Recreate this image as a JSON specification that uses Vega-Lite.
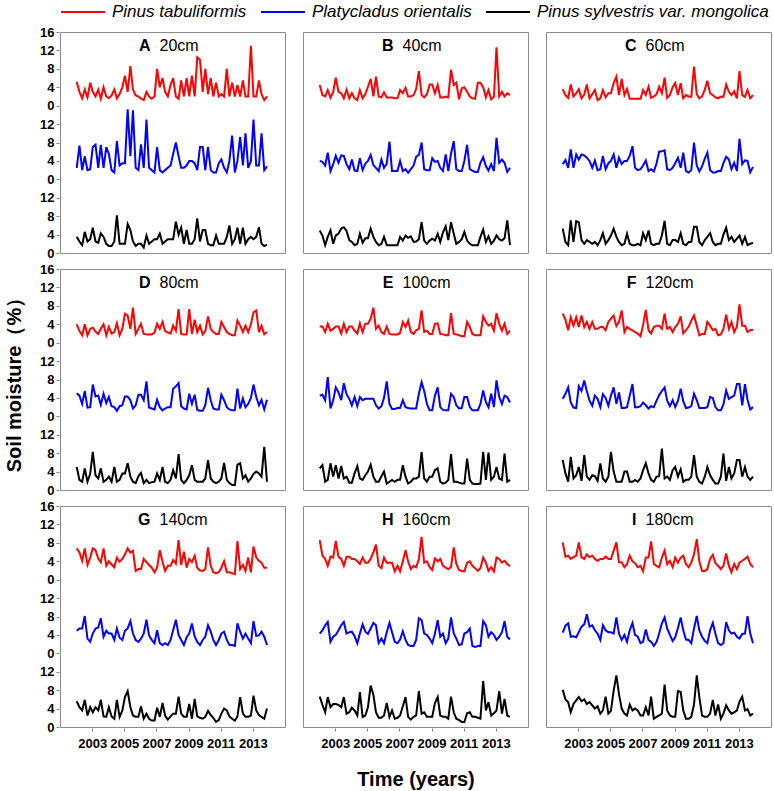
{
  "$schema": "https://vega.github.io/schema/vega-lite/v6.json",
  "background": "white",
  "padding": {"left": 4, "top": 0, "right": 4, "bottom": 0},
  "data": {"values": [
    {"t":2002.04,"A1":5.2,"A2":2.5,"A3":3.5,"B1":4.5,"B2":4.0,"B3":4.9,"C1":3.6,"C2":3.3,"C3":5.3,"D1":4.0,"D2":5.0,"D3":5.0,"E1":3.5,"E2":4.5,"E3":4.7,"F1":6.3,"F2":3.8,"F3":6.5,"G1":6.8,"G2":4.9,"G3":5.6,"H1":8.6,"H2":4.3,"H3":6.6,"I1":8.1,"I2":4.5,"I3":8.1},
    {"t":2002.21,"A1":3.0,"A2":7.3,"A3":2.5,"B1":2.3,"B2":3.8,"B3":3.8,"C1":2.3,"C2":4.2,"C3":2.4,"D1":2.5,"D2":4.5,"D3":2.2,"E1":3.5,"E2":4.7,"E3":5.4,"F1":5.0,"F2":4.9,"F3":3.6,"G1":5.9,"G2":5.4,"G3":4.3,"H1":5.2,"H2":5.0,"H3":4.8,"I1":5.0,"I2":6.0,"I3":6.0},
    {"t":2002.38,"A1":1.6,"A2":2.0,"A3":1.7,"B1":2.0,"B2":3.0,"B3":1.7,"C1":1.7,"C2":2.5,"C3":1.7,"D1":1.6,"D2":2.7,"D3":1.8,"E1":2.3,"E2":3.5,"E3":1.8,"F1":2.7,"F2":6.3,"F3":1.8,"G1":4.1,"G2":5.4,"G3":3.6,"H1":4.5,"H2":6.1,"H3":3.2,"I1":5.2,"I2":6.5,"I3":5.4},
    {"t":2002.54,"A1":3.5,"A2":5.0,"A3":4.6,"B1":3.4,"B2":5.8,"B3":3.5,"C1":4.6,"C2":6.5,"C3":7.1,"D1":4.0,"D2":5.5,"D3":4.7,"E1":4.1,"E2":8.5,"E3":2.2,"F1":5.5,"F2":3.0,"F3":7.2,"G1":6.8,"G2":8.1,"G3":5.9,"H1":3.0,"H2":6.8,"H3":6.5,"I1":4.5,"I2":3.6,"I3":3.2},
    {"t":2002.71,"A1":1.8,"A2":2.0,"A3":2.5,"B1":1.7,"B2":1.8,"B3":4.9,"C1":2.0,"C2":2.5,"C3":2.4,"D1":1.6,"D2":1.9,"D3":1.8,"E1":2.6,"E2":1.7,"E3":5.8,"F1":3.7,"F2":1.9,"F3":2.5,"G1":3.2,"G2":3.2,"G3":2.5,"H1":5.0,"H2":2.5,"H3":4.3,"I1":4.9,"I2":3.7,"I3":5.0},
    {"t":2002.88,"A1":5.0,"A2":2.2,"A3":3.0,"B1":3.0,"B2":3.3,"B3":2.0,"C1":2.7,"C2":5.4,"C3":6.9,"D1":3.0,"D2":2.0,"D3":3.5,"E1":3.0,"E2":3.5,"E3":2.9,"F1":5.5,"F2":1.8,"F3":3.2,"G1":4.8,"G2":2.5,"G3":4.3,"H1":4.8,"H2":3.6,"H3":5.0,"I1":5.2,"I2":3.5,"I3":5.8},
    {"t":2003.04,"A1":3.0,"A2":7.0,"A3":5.5,"B1":6.1,"B2":5.1,"B3":3.8,"C1":3.6,"C2":4.3,"C3":6.7,"D1":3.3,"D2":6.9,"D3":8.3,"E1":3.5,"E2":6.3,"E3":5.4,"F1":3.4,"F2":6.5,"F3":5.0,"G1":6.8,"G2":4.3,"G3":3.2,"H1":8.4,"H2":4.0,"H3":5.0,"I1":8.1,"I2":4.6,"I3":6.5},
    {"t":2003.21,"A1":2.0,"A2":7.5,"A3":2.5,"B1":3.0,"B2":3.6,"B3":4.2,"C1":1.6,"C2":5.4,"C3":2.8,"D1":2.4,"D2":4.3,"D3":3.2,"E1":3.5,"E2":5.2,"E3":2.5,"F1":5.9,"F2":5.5,"F3":2.0,"G1":6.4,"G2":5.4,"G3":4.3,"H1":5.0,"H2":5.0,"H3":4.8,"I1":4.9,"I2":5.8,"I3":5.6},
    {"t":2003.38,"A1":3.5,"A2":2.5,"A3":2.2,"B1":2.7,"B2":5.2,"B3":5.3,"C1":2.4,"C2":5.2,"C3":2.0,"D1":1.9,"D2":4.5,"D3":2.5,"E1":2.0,"E2":3.5,"E3":5.2,"F1":3.4,"F2":7.8,"F3":7.6,"G1":4.6,"G2":5.6,"G3":3.6,"H1":4.5,"H2":6.1,"H3":4.3,"I1":4.5,"I2":6.3,"I3":6.0},
    {"t":2003.54,"A1":1.5,"A2":7.5,"A3":4.3,"B1":1.6,"B2":5.1,"B3":5.6,"C1":4.6,"C2":4.7,"C3":2.8,"D1":3.0,"D2":2.5,"D3":4.7,"E1":4.1,"E2":7.2,"E3":2.5,"F1":4.5,"F2":5.5,"F3":2.9,"G1":3.8,"G2":7.6,"G3":5.9,"H1":3.0,"H2":6.8,"H3":6.5,"I1":5.5,"I2":8.5,"I3":5.0},
    {"t":2003.71,"A1":4.0,"A2":2.5,"A3":3.5,"B1":3.5,"B2":3.3,"B3":4.8,"C1":1.6,"C2":4.0,"C3":2.4,"D1":4.0,"D2":4.9,"D3":1.8,"E1":2.3,"E2":4.8,"E3":2.9,"F1":3.0,"F2":3.4,"F3":2.2,"G1":6.8,"G2":3.6,"G3":2.3,"H1":5.0,"H2":4.3,"H3":2.9,"I1":4.9,"I2":5.8,"I3":5.4},
    {"t":2003.88,"A1":2.0,"A2":7.0,"A3":2.0,"B1":1.6,"B2":2.2,"B3":2.8,"C1":2.5,"C2":2.5,"C3":2.0,"D1":1.6,"D2":2.9,"D3":2.2,"E1":3.5,"E2":3.8,"E3":1.6,"F1":4.5,"F2":2.3,"F3":3.2,"G1":3.0,"G2":4.9,"G3":2.2,"H1":5.0,"H2":4.6,"H3":3.2,"I1":5.2,"I2":6.1,"I3":4.7},
    {"t":2004.04,"A1":1.6,"A2":5.5,"A3":1.5,"B1":2.7,"B2":4.3,"B3":2.4,"C1":3.4,"C2":4.1,"C3":2.4,"D1":3.4,"D2":4.2,"D3":2.9,"E1":3.5,"E2":2.4,"E3":1.6,"F1":3.0,"F2":4.5,"F3":3.0,"G1":4.0,"G2":4.3,"G3":4.3,"H1":4.5,"H2":4.7,"H3":4.2,"I1":4.5,"I2":5.0,"I3":4.0},
    {"t":2004.21,"A1":2.2,"A2":2.0,"A3":1.5,"B1":1.6,"B2":1.9,"B3":1.7,"C1":1.2,"C2":2.0,"C3":1.7,"D1":2.0,"D2":2.2,"D3":1.8,"E1":2.6,"E2":4.2,"E3":3.6,"F1":3.0,"F2":3.8,"F3":2.0,"G1":3.3,"G2":4.3,"G3":2.3,"H1":4.5,"H2":3.7,"H3":3.6,"I1":4.1,"I2":4.3,"I3":4.5},
    {"t":2004.38,"A1":3.5,"A2":1.5,"A3":2.5,"B1":1.2,"B2":1.8,"B3":2.0,"C1":1.6,"C2":2.2,"C3":2.8,"D1":2.3,"D2":2.0,"D3":5.0,"E1":2.0,"E2":2.2,"E3":5.2,"F1":3.4,"F2":2.0,"F3":5.8,"G1":2.7,"G2":2.9,"G3":1.8,"H1":4.0,"H2":2.2,"H3":2.5,"I1":4.5,"I2":2.9,"I3":2.9},
    {"t":2004.54,"A1":1.6,"A2":8.3,"A3":8.2,"B1":3.4,"B2":4.6,"B3":4.2,"C1":3.4,"C2":5.1,"C3":4.3,"D1":4.2,"D2":1.2,"D3":1.8,"E1":4.2,"E2":4.2,"E3":2.5,"F1":3.4,"F2":4.8,"F3":2.5,"G1":4.8,"G2":5.4,"G3":5.9,"H1":3.4,"H2":4.3,"H3":7.6,"I1":4.5,"I2":6.1,"I3":3.6},
    {"t":2004.71,"A1":2.5,"A2":3.0,"A3":2.0,"B1":1.6,"B2":2.0,"B3":2.2,"C1":1.8,"C2":2.2,"C3":2.0,"D1":1.6,"D2":2.2,"D3":2.2,"E1":2.3,"E2":3.5,"E3":2.2,"F1":2.7,"F2":4.0,"F3":1.8,"G1":3.9,"G2":3.4,"G3":2.2,"H1":4.8,"H2":6.3,"H3":2.2,"I1":5.0,"I2":5.0,"I3":6.6},
    {"t":2004.88,"A1":4.0,"A2":3.5,"A3":2.0,"B1":2.5,"B2":3.4,"B3":3.2,"C1":2.7,"C2":3.5,"C3":2.8,"D1":3.0,"D2":2.4,"D3":3.6,"E1":4.1,"E2":3.8,"E3":3.2,"F1":4.5,"F2":2.3,"F3":2.9,"G1":4.5,"G2":2.9,"G3":3.6,"H1":3.7,"H2":4.7,"H3":2.5,"I1":4.5,"I2":4.6,"I3":2.9},
    {"t":2005.04,"A1":6.5,"A2":3.5,"A3":2.0,"B1":4.1,"B2":4.0,"B3":3.2,"C1":2.7,"C2":4.0,"C3":3.8,"D1":6.3,"D2":4.3,"D3":3.6,"E1":4.1,"E2":3.8,"E3":4.0,"F1":5.2,"F2":4.5,"F3":8.3,"G1":5.5,"G2":4.9,"G3":6.5,"H1":3.7,"H2":4.2,"H3":4.3,"I1":4.5,"I2":4.6,"I3":3.5},
    {"t":2005.21,"A1":3.0,"A2":15.2,"A3":6.3,"B1":5.8,"B2":5.3,"B3":5.3,"C1":4.9,"C2":5.4,"C3":5.3,"D1":5.9,"D2":4.3,"D3":5.8,"E1":5.2,"E2":3.8,"E3":5.5,"F1":5.9,"F2":6.3,"F3":4.0,"G1":6.8,"G2":5.4,"G3":7.8,"H1":4.5,"H2":5.4,"H3":9.0,"I1":6.3,"I2":4.3,"I3":7.9},
    {"t":2005.38,"A1":8.6,"A2":5.0,"A3":5.0,"B1":2.0,"B2":3.1,"B3":3.5,"C1":6.3,"C2":2.5,"C3":3.5,"D1":3.0,"D2":3.5,"D3":2.9,"E1":7.6,"E2":3.8,"E3":2.9,"F1":3.6,"F2":2.7,"F3":1.8,"G1":5.9,"G2":7.0,"G3":4.3,"H1":6.0,"H2":6.6,"H3":7.0,"I1":8.1,"I2":7.8,"I3":11.2},
    {"t":2005.54,"A1":3.5,"A2":15.0,"A3":2.5,"B1":6.3,"B2":2.5,"B3":2.4,"C1":2.3,"C2":4.7,"C3":2.4,"D1":7.6,"D2":1.7,"D3":1.8,"E1":3.0,"E2":2.4,"E3":1.8,"F1":4.5,"F2":5.2,"F3":1.8,"G1":6.3,"G2":4.3,"G3":2.5,"H1":7.6,"H2":6.1,"H3":3.2,"I1":3.8,"I2":4.3,"I3":7.2},
    {"t":2005.71,"A1":2.2,"A2":2.5,"A3":1.5,"B1":2.0,"B2":1.8,"B3":1.7,"C1":5.8,"C2":3.3,"C3":1.7,"D1":1.9,"D2":2.4,"D3":1.5,"E1":3.7,"E2":1.7,"E3":1.8,"F1":7.0,"F2":1.8,"F3":1.8,"G1":1.9,"G2":2.9,"G3":2.2,"H1":3.0,"H2":2.2,"H3":2.0,"I1":3.8,"I2":2.9,"I3":4.0},
    {"t":2005.88,"A1":2.0,"A2":2.0,"A3":2.0,"B1":1.8,"B2":4.3,"B3":2.0,"C1":2.3,"C2":4.0,"C3":2.0,"D1":3.0,"D2":4.7,"D3":3.0,"E1":2.3,"E2":2.2,"E3":3.0,"F1":2.3,"F2":1.8,"F3":4.0,"G1":2.3,"G2":2.5,"G3":2.2,"H1":2.5,"H2":3.2,"H3":2.0,"I1":2.7,"I2":4.0,"I3":2.9},
    {"t":2006.04,"A1":1.5,"A2":7.6,"A3":2.0,"B1":2.9,"B2":2.5,"B3":3.5,"C1":3.6,"C2":4.0,"C3":4.2,"D1":4.1,"D2":4.7,"D3":3.7,"E1":1.9,"E2":4.0,"E3":4.0,"F1":3.4,"F2":2.0,"F3":4.0,"G1":2.3,"G2":3.2,"G3":4.5,"H1":4.8,"H2":2.2,"H3":2.5,"I1":3.4,"I2":2.5,"I3":2.5},
    {"t":2006.21,"A1":1.2,"A2":2.5,"A3":1.2,"B1":1.8,"B2":3.4,"B3":1.7,"C1":1.5,"C2":5.1,"C3":2.0,"D1":1.9,"D2":3.5,"D3":1.5,"E1":3.5,"E2":7.6,"E3":1.4,"F1":3.0,"F2":4.5,"F3":1.8,"G1":4.5,"G2":4.3,"G3":1.8,"H1":3.7,"H2":4.6,"H3":5.2,"I1":5.2,"I2":5.0,"I3":4.9},
    {"t":2006.38,"A1":3.0,"A2":13.0,"A3":3.8,"B1":1.8,"B2":8.2,"B3":1.7,"C1":1.5,"C2":7.2,"C3":1.7,"D1":1.8,"D2":7.6,"D3":2.2,"E1":1.9,"E2":2.7,"E3":1.8,"F1":2.7,"F2":7.0,"F3":1.8,"G1":3.8,"G2":7.3,"G3":2.9,"H1":3.7,"H2":6.6,"H3":2.2,"I1":4.0,"I2":6.6,"I3":3.6},
    {"t":2006.54,"A1":2.0,"A2":2.5,"A3":2.0,"B1":1.8,"B2":1.8,"B3":1.7,"C1":1.5,"C2":2.5,"C3":1.7,"D1":1.8,"D2":1.9,"D3":1.5,"E1":1.8,"E2":1.6,"E3":2.2,"F1":2.3,"F2":2.0,"F3":2.2,"G1":3.2,"G2":3.9,"G3":1.8,"H1":3.7,"H2":4.6,"H3":3.6,"I1":3.6,"I2":4.0,"I3":4.0},
    {"t":2006.71,"A1":1.5,"A2":2.0,"A3":2.5,"B1":1.6,"B2":1.8,"B3":1.7,"C1":1.5,"C2":2.0,"C3":2.0,"D1":1.8,"D2":1.7,"D3":1.7,"E1":1.8,"E2":1.6,"E3":1.8,"F1":2.0,"F2":2.0,"F3":1.8,"G1":2.6,"G2":2.9,"G3":1.4,"H1":1.8,"H2":2.5,"H3":1.8,"I1":2.7,"I2":3.6,"I3":3.6},
    {"t":2006.88,"A1":2.0,"A2":1.5,"A3":3.0,"B1":1.6,"B2":1.8,"B3":1.7,"C1":1.5,"C2":2.2,"C3":1.7,"D1":2.2,"D2":1.5,"D3":1.8,"E1":1.8,"E2":1.8,"E3":2.2,"F1":1.4,"F2":2.2,"F3":2.5,"G1":1.6,"G2":2.2,"G3":1.4,"H1":3.0,"H2":2.2,"H3":2.0,"I1":3.0,"I2":2.2,"I3":2.5},
    {"t":2007.04,"A1":8.0,"A2":7.0,"A3":3.0,"B1":3.4,"B2":4.0,"B3":3.5,"C1":3.4,"C2":3.0,"C3":4.3,"D1":4.1,"D2":3.6,"D3":3.6,"E1":2.1,"E2":1.8,"E3":2.2,"F1":3.8,"F2":3.0,"F3":4.3,"G1":2.6,"G2":5.0,"G3":4.2,"H1":1.8,"H2":3.0,"H3":2.5,"I1":1.8,"I2":2.5,"I3":2.5},
    {"t":2007.21,"A1":4.0,"A2":2.0,"A3":4.2,"B1":2.7,"B2":1.8,"B3":2.7,"C1":2.3,"C2":4.1,"C3":2.8,"D1":3.0,"D2":2.0,"D3":2.2,"E1":4.5,"E2":3.5,"E3":5.4,"F1":7.1,"F2":2.4,"F3":5.8,"G1":6.4,"G2":2.2,"G3":2.2,"H1":4.0,"H2":4.8,"H3":4.5,"I1":4.8,"I2":5.2,"I3":4.3},
    {"t":2007.38,"A1":6.0,"A2":1.5,"A3":2.0,"B1":3.9,"B2":2.2,"B3":3.8,"C1":4.1,"C2":1.8,"C3":4.9,"D1":4.5,"D2":1.3,"D3":5.0,"E1":3.4,"E2":2.0,"E3":2.9,"F1":2.7,"F2":1.7,"F3":3.6,"G1":3.9,"G2":1.8,"G3":5.2,"H1":6.4,"H2":2.9,"H3":6.5,"I1":4.8,"I2":2.9,"I3":2.5},
    {"t":2007.54,"A1":3.0,"A2":2.0,"A3":2.5,"B1":2.0,"B2":1.4,"B3":3.3,"C1":1.7,"C2":2.2,"C3":2.0,"D1":2.5,"D2":1.7,"D3":1.8,"E1":4.8,"E2":1.8,"E3":1.4,"F1":2.0,"F2":2.2,"F3":2.2,"G1":1.9,"G2":2.2,"G3":2.5,"H1":4.0,"H2":1.8,"H3":2.2,"I1":8.3,"I2":2.5,"I3":6.6},
    {"t":2007.71,"A1":2.0,"A2":2.5,"A3":3.0,"B1":2.0,"B2":2.2,"B3":3.6,"C1":2.0,"C2":1.7,"C3":1.7,"D1":2.2,"D2":2.0,"D3":1.5,"E1":2.3,"E2":1.7,"E3":1.8,"F1":3.4,"F2":2.0,"F3":1.8,"G1":3.0,"G2":1.8,"G3":1.6,"H1":2.3,"H2":1.6,"H3":1.6,"I1":3.4,"I2":1.6,"I3":1.8},
    {"t":2007.88,"A1":4.5,"A2":3.0,"A3":3.0,"B1":2.3,"B2":3.0,"B3":2.4,"C1":2.5,"C2":3.5,"C3":2.0,"D1":2.0,"D2":2.0,"D3":2.2,"E1":1.9,"E2":1.7,"E3":2.5,"F1":3.7,"F2":3.4,"F3":2.9,"G1":3.0,"G2":2.9,"G3":2.3,"H1":3.0,"H2":1.6,"H3":2.2,"I1":3.0,"I2":2.5,"I3":2.2},
    {"t":2008.04,"A1":6.0,"A2":5.5,"A3":3.0,"B1":3.6,"B2":4.9,"B3":2.5,"C1":4.1,"C2":6.0,"C3":2.0,"D1":3.7,"D2":6.0,"D3":4.3,"E1":2.7,"E2":1.7,"E3":2.5,"F1":3.7,"F2":4.6,"F3":3.0,"G1":4.3,"G2":5.0,"G3":2.9,"H1":2.7,"H2":2.9,"H3":2.5,"I1":2.7,"I2":4.3,"I3":2.5},
    {"t":2008.21,"A1":2.0,"A2":8.0,"A3":6.8,"B1":7.5,"B2":5.3,"B3":3.0,"C1":2.7,"C2":6.1,"C3":3.8,"D1":2.6,"D2":6.5,"D3":2.5,"E1":3.0,"E2":4.9,"E3":2.9,"F1":3.0,"F2":5.5,"F3":9.0,"G1":3.5,"G2":7.3,"G3":2.9,"H1":4.5,"H2":7.6,"H3":7.8,"I1":4.8,"I2":6.5,"I3":2.9},
    {"t":2008.38,"A1":1.5,"A2":5.0,"A3":4.0,"B1":2.3,"B2":8.0,"B3":6.7,"C1":6.1,"C2":6.3,"C3":7.0,"D1":7.3,"D2":7.2,"D3":7.8,"E1":7.0,"E2":7.4,"E3":8.3,"F1":6.3,"F2":6.3,"F3":2.5,"G1":8.6,"G2":4.0,"G3":6.6,"H1":9.3,"H2":7.2,"H3":2.9,"I1":6.3,"I2":7.8,"I3":9.2},
    {"t":2008.54,"A1":5.5,"A2":2.5,"A3":5.5,"B1":1.8,"B2":2.2,"B3":2.7,"C1":1.7,"C2":2.2,"C3":2.0,"D1":1.9,"D2":2.2,"D3":2.2,"E1":2.3,"E2":5.5,"E3":2.5,"F1":3.0,"F2":3.4,"F3":2.9,"G1":3.2,"G2":2.9,"G3":2.9,"H1":3.7,"H2":4.3,"H3":3.2,"I1":3.4,"I2":5.4,"I3":3.6},
    {"t":2008.71,"A1":2.0,"A2":2.5,"A3":2.0,"B1":2.5,"B2":2.0,"B3":2.0,"C1":2.3,"C2":2.0,"C3":1.7,"D1":1.8,"D2":1.7,"D3":1.5,"E1":2.6,"E2":2.7,"E3":1.8,"F1":3.4,"F2":2.2,"F3":2.2,"G1":6.1,"G2":1.8,"G3":2.2,"H1":4.0,"H2":4.0,"H3":2.2,"I1":4.1,"I2":4.0,"I3":2.5},
    {"t":2008.88,"A1":6.0,"A2":3.0,"A3":5.0,"B1":4.6,"B2":2.0,"B3":2.7,"C1":4.0,"C2":2.5,"C3":2.8,"D1":1.8,"D2":1.5,"D3":2.2,"E1":1.9,"E2":1.3,"E3":2.9,"F1":2.3,"F2":3.5,"F3":4.3,"G1":2.6,"G2":3.5,"G3":2.2,"H1":2.7,"H2":3.2,"H3":2.2,"I1":2.7,"I2":2.7,"I3":2.2},
    {"t":2009.04,"A1":2.0,"A2":4.0,"A3":2.0,"B1":4.6,"B2":4.6,"B3":3.1,"C1":4.9,"C2":3.5,"C3":2.8,"D1":7.3,"D2":4.9,"D3":3.2,"E1":1.9,"E2":1.3,"E3":2.9,"F1":3.4,"F2":2.0,"F3":5.0,"G1":4.5,"G2":4.3,"G3":5.0,"H1":2.1,"H2":2.2,"H3":2.2,"I1":4.8,"I2":3.5,"I3":2.2},
    {"t":2009.21,"A1":6.5,"A2":4.0,"A3":2.0,"B1":2.7,"B2":3.8,"B3":2.7,"C1":2.3,"C2":4.7,"C3":2.4,"D1":1.9,"D2":2.7,"D3":5.4,"E1":4.1,"E2":4.5,"E3":4.3,"F1":4.1,"F2":3.4,"F3":2.9,"G1":3.8,"G2":6.5,"G3":1.8,"H1":4.6,"H2":4.3,"H3":5.2,"I1":3.7,"I2":5.5,"I3":7.8},
    {"t":2009.38,"A1":2.0,"A2":3.5,"A3":3.0,"B1":4.5,"B2":4.0,"B3":4.2,"C1":4.9,"C2":2.5,"C3":4.3,"D1":5.0,"D2":4.7,"D3":2.2,"E1":4.2,"E2":6.3,"E3":4.7,"F1":5.7,"F2":6.0,"F3":4.5,"G1":5.2,"G2":3.6,"G3":6.1,"H1":4.0,"H2":7.2,"H3":6.5,"I1":4.8,"I2":7.8,"I3":7.6},
    {"t":2009.54,"A1":10.5,"A2":2.0,"A3":7.5,"B1":1.8,"B2":2.5,"B3":2.4,"C1":1.6,"C2":5.8,"C3":2.0,"D1":2.3,"D2":1.4,"D3":1.8,"E1":1.9,"E2":2.0,"E3":1.8,"F1":2.0,"F2":3.3,"F3":1.8,"G1":2.6,"G2":2.5,"G3":2.3,"H1":4.5,"H2":3.6,"H3":2.5,"I1":5.2,"I2":5.0,"I3":3.6},
    {"t":2009.71,"A1":10.0,"A2":7.0,"A3":2.5,"B1":1.8,"B2":1.8,"B3":4.5,"C1":2.3,"C2":1.8,"C3":1.7,"D1":3.7,"D2":1.2,"D3":1.8,"E1":1.8,"E2":1.4,"E3":1.4,"F1":2.7,"F2":1.8,"F3":2.2,"G1":2.0,"G2":1.8,"G3":2.0,"H1":3.0,"H2":4.3,"H3":2.2,"I1":3.4,"I2":3.0,"I3":1.8},
    {"t":2009.88,"A1":3.0,"A2":7.0,"A3":5.0,"B1":2.0,"B2":5.4,"B3":5.8,"C1":2.0,"C2":1.5,"C3":2.4,"D1":1.8,"D2":1.2,"D3":1.8,"E1":1.6,"E2":1.3,"E3":1.6,"F1":3.5,"F2":1.9,"F3":2.2,"G1":1.9,"G2":2.9,"G3":1.8,"H1":2.6,"H2":2.2,"H3":2.2,"I1":2.7,"I2":2.9,"I3":1.8},
    {"t":2010.04,"A1":8.0,"A2":2.0,"A3":5.0,"B1":1.8,"B2":1.8,"B3":2.8,"C1":1.9,"C2":2.0,"C3":2.4,"D1":2.5,"D2":2.4,"D3":2.5,"E1":1.6,"E2":1.3,"E3":2.2,"F1":4.8,"F2":2.2,"F3":2.9,"G1":2.3,"G2":3.6,"G3":2.2,"H1":2.3,"H2":3.2,"H3":1.8,"I1":3.7,"I2":2.2,"I3":2.2},
    {"t":2010.21,"A1":2.5,"A2":7.0,"A3":2.0,"B1":7.8,"B2":5.6,"B3":6.7,"C1":8.5,"C2":8.0,"C3":5.7,"D1":5.7,"D2":6.2,"D3":6.5,"E1":6.4,"E2":4.9,"E3":7.8,"F1":5.9,"F2":4.9,"F3":7.6,"G1":7.0,"G2":6.1,"G3":3.5,"H1":2.7,"H2":7.8,"H3":6.6,"I1":5.5,"I2":5.4,"I3":4.9},
    {"t":2010.38,"A1":6.0,"A2":2.0,"A3":1.7,"B1":4.5,"B2":8.3,"B3":4.2,"C1":2.5,"C2":3.0,"C3":5.7,"D1":3.0,"D2":3.5,"D3":2.5,"E1":1.9,"E2":4.2,"E3":1.8,"F1":3.7,"F2":3.5,"F3":2.9,"G1":3.0,"G2":4.7,"G3":2.6,"H1":7.0,"H2":4.3,"H3":3.2,"I1":8.8,"I2":8.1,"I3":11.2},
    {"t":2010.54,"A1":2.0,"A2":1.5,"A3":1.7,"B1":5.0,"B2":2.2,"B3":2.0,"C1":1.6,"C2":1.7,"C3":2.4,"D1":2.3,"D2":1.7,"D3":1.8,"E1":1.8,"E2":2.4,"E3":1.8,"F1":1.6,"F2":1.8,"F3":1.8,"G1":1.6,"G2":2.9,"G3":2.0,"H1":3.4,"H2":3.2,"H3":1.8,"I1":4.0,"I2":5.0,"I3":6.5},
    {"t":2010.71,"A1":5.0,"A2":1.5,"A3":3.8,"B1":1.4,"B2":1.8,"B3":2.4,"C1":2.0,"C2":2.8,"C3":1.7,"D1":1.9,"D2":1.5,"D3":1.5,"E1":1.6,"E2":1.7,"E3":1.6,"F1":1.9,"F2":1.8,"F3":1.4,"G1":1.4,"G2":1.8,"G3":1.1,"H1":2.1,"H2":1.8,"H3":1.5,"I1":1.9,"I2":3.6,"I3":2.5},
    {"t":2010.88,"A1":2.0,"A2":3.5,"A3":2.0,"B1":3.8,"B2":1.8,"B3":3.0,"C1":3.5,"C2":4.5,"C3":2.8,"D1":1.9,"D2":1.5,"D3":1.8,"E1":1.4,"E2":1.8,"E3":1.4,"F1":1.9,"F2":1.8,"F3":2.9,"G1":1.6,"G2":2.9,"G3":1.5,"H1":1.9,"H2":2.0,"H3":1.1,"I1":1.9,"I2":2.7,"I3":2.2},
    {"t":2011.04,"A1":2.5,"A2":4.3,"A3":2.0,"B1":4.0,"B2":4.0,"B3":4.6,"C1":5.4,"C2":5.8,"C3":3.5,"D1":4.5,"D2":4.7,"D3":2.5,"E1":1.4,"E2":4.2,"E3":1.4,"F1":4.5,"F2":2.0,"F3":5.0,"G1":2.6,"G2":4.3,"G3":2.9,"H1":1.8,"H2":4.3,"H3":1.1,"I1":2.3,"I2":2.2,"I3":2.2},
    {"t":2011.21,"A1":2.0,"A2":2.5,"A3":2.0,"B1":3.0,"B2":7.5,"B3":2.7,"C1":2.7,"C2":2.0,"C3":4.3,"D1":3.4,"D2":3.5,"D3":5.9,"E1":4.5,"E2":4.2,"E3":6.8,"F1":3.7,"F2":4.2,"F3":3.2,"G1":4.0,"G2":4.7,"G3":4.0,"H1":3.7,"H2":4.6,"H3":3.0,"I1":4.5,"I2":5.0,"I3":2.9},
    {"t":2011.38,"A1":8.0,"A2":1.5,"A3":3.5,"B1":2.0,"B2":2.2,"B3":2.0,"C1":2.3,"C2":1.5,"C3":2.4,"D1":2.3,"D2":2.0,"D3":2.2,"E1":3.4,"E2":2.0,"E3":2.2,"F1":2.7,"F2":4.0,"F3":2.2,"G1":1.6,"G2":2.9,"G3":3.6,"H1":4.0,"H2":5.4,"H3":3.2,"I1":5.4,"I2":6.6,"I3":5.9},
    {"t":2011.54,"A1":2.0,"A2":4.0,"A3":6.0,"B1":1.6,"B2":1.9,"B3":1.7,"C1":1.8,"C2":1.5,"C3":1.7,"D1":1.9,"D2":1.5,"D3":1.5,"E1":1.9,"E2":1.3,"E3":1.4,"F1":3.0,"F2":2.0,"F3":1.4,"G1":1.6,"G2":1.8,"G3":2.3,"H1":3.0,"H2":1.6,"H3":2.2,"I1":3.6,"I2":4.3,"I3":2.5},
    {"t":2011.71,"A1":5.0,"A2":9.5,"A3":2.0,"B1":1.5,"B2":1.6,"B3":1.7,"C1":1.6,"C2":1.8,"C3":2.0,"D1":1.6,"D2":1.3,"D3":1.1,"E1":1.6,"E2":1.3,"E3":1.3,"F1":1.6,"F2":1.3,"F3":1.4,"G1":1.4,"G2":1.8,"G3":1.8,"H1":2.5,"H2":1.4,"H3":2.2,"I1":3.0,"I2":2.2,"I3":4.9},
    {"t":2011.88,"A1":2.0,"A2":1.5,"A3":3.0,"B1":5.0,"B2":1.6,"B3":1.7,"C1":2.0,"C2":1.8,"C3":2.0,"D1":1.6,"D2":1.3,"D3":1.1,"E1":1.6,"E2":1.3,"E3":1.3,"F1":1.8,"F2":1.3,"F3":2.9,"G1":1.2,"G2":1.6,"G3":1.4,"H1":1.9,"H2":1.6,"H3":2.0,"I1":2.3,"I2":1.8,"I3":1.8},
    {"t":2012.04,"A1":4.5,"A2":4.0,"A3":5.5,"B1":5.0,"B2":3.6,"B3":3.5,"C1":1.9,"C2":3.5,"C3":4.0,"D1":4.8,"D2":6.0,"D3":5.5,"E1":1.6,"E2":2.7,"E3":1.4,"F1":3.0,"F2":2.6,"F3":7.9,"G1":8.4,"G2":6.5,"G3":2.3,"H1":2.5,"H2":1.6,"H3":1.8,"I1":3.0,"I2":2.2,"I3":2.9},
    {"t":2012.21,"A1":2.0,"A2":9.2,"A3":2.0,"B1":4.0,"B2":4.8,"B3":5.1,"C1":4.6,"C2":4.9,"C3":5.5,"D1":3.7,"D2":1.7,"D3":5.8,"E1":5.7,"E2":5.6,"E3":8.3,"F1":6.1,"F2":5.6,"F3":2.0,"G1":2.3,"G2":4.7,"G3":6.5,"H1":4.8,"H2":7.0,"H3":10.0,"I1":5.7,"I2":6.8,"I3":4.7},
    {"t":2012.38,"A1":5.5,"A2":3.0,"A3":5.5,"B1":1.8,"B2":2.9,"B3":2.4,"C1":3.0,"C2":4.3,"C3":2.8,"D1":2.3,"D2":3.9,"D3":2.5,"E1":4.5,"E2":3.1,"E3":2.2,"F1":3.0,"F2":3.8,"F3":5.0,"G1":3.2,"G2":3.2,"G3":2.9,"H1":3.7,"H2":6.1,"H3":3.6,"I1":3.0,"I2":5.0,"I3":3.6},
    {"t":2012.54,"A1":2.0,"A2":10.0,"A3":2.0,"B1":3.4,"B2":1.9,"B3":3.6,"C1":2.3,"C2":2.2,"C3":3.5,"D1":3.7,"D2":2.0,"D3":3.2,"E1":3.7,"E2":2.0,"E3":8.1,"F1":4.5,"F2":4.2,"F3":2.5,"G1":1.9,"G2":4.3,"G3":2.2,"H1":1.9,"H2":3.6,"H3":5.4,"I1":1.6,"I2":4.3,"I3":2.9},
    {"t":2012.71,"A1":2.0,"A2":2.5,"A3":3.0,"B1":1.4,"B2":3.3,"B3":2.0,"C1":3.1,"C2":3.6,"C3":2.4,"D1":2.3,"D2":2.7,"D3":1.8,"E1":4.1,"E2":4.9,"E3":2.2,"F1":2.3,"F2":4.5,"F3":3.6,"G1":4.8,"G2":3.2,"G3":2.2,"H1":2.7,"H2":4.6,"H3":2.5,"I1":3.4,"I2":4.5,"I3":3.2},
    {"t":2012.88,"A1":13.0,"A2":4.0,"A3":3.5,"B1":2.0,"B2":1.8,"B3":2.7,"C1":1.6,"C2":1.8,"C3":3.1,"D1":4.0,"D2":4.0,"D3":2.5,"E1":2.6,"E2":2.0,"E3":2.9,"F1":3.5,"F2":7.0,"F3":6.5,"G1":1.6,"G2":2.2,"G3":2.5,"H1":1.8,"H2":4.0,"H3":3.0,"I1":2.3,"I2":3.6,"I3":3.6},
    {"t":2013.04,"A1":2.0,"A2":13.0,"A3":3.0,"B1":12.7,"B2":9.0,"B3":3.8,"C1":7.5,"C2":8.8,"C3":3.8,"D1":6.6,"D2":6.9,"D3":3.5,"E1":6.4,"E2":7.8,"E3":5.0,"F1":8.3,"F2":7.0,"F3":6.5,"G1":7.2,"G2":7.0,"G3":6.8,"H1":4.8,"H2":2.9,"H3":3.6,"I1":3.7,"I2":3.2,"I3":5.5},
    {"t":2013.21,"A1":2.0,"A2":3.0,"A3":3.5,"B1":2.0,"B2":3.6,"B3":3.0,"C1":2.3,"C2":3.3,"C3":2.0,"D1":7.0,"D2":4.2,"D3":4.0,"E1":4.1,"E2":4.2,"E3":2.5,"F1":3.7,"F2":2.4,"F3":2.9,"G1":4.8,"G2":3.8,"G3":3.6,"H1":4.5,"H2":3.6,"H3":7.8,"I1":4.1,"I2":4.2,"I3":6.6},
    {"t":2013.38,"A1":5.5,"A2":3.0,"A3":5.6,"B1":3.0,"B2":4.3,"B3":2.7,"C1":1.9,"C2":4.1,"C3":3.5,"D1":2.3,"D2":2.4,"D3":3.6,"E1":2.6,"E2":2.7,"E3":2.2,"F1":3.7,"F2":7.0,"F3":5.0,"G1":4.1,"G2":3.9,"G3":2.6,"H1":3.7,"H2":4.6,"H3":2.9,"I1":4.5,"I2":4.3,"I3":3.6},
    {"t":2013.54,"A1":2.5,"A2":10.0,"A3":2.0,"B1":2.0,"B2":3.6,"B3":3.2,"C1":3.4,"C2":4.0,"C3":1.7,"D1":3.7,"D2":3.6,"D3":2.9,"E1":4.1,"E2":4.5,"E3":7.9,"F1":2.3,"F2":3.6,"F3":2.9,"G1":3.7,"G2":4.7,"G3":2.2,"H1":4.1,"H2":7.0,"H3":6.1,"I1":5.0,"I2":8.1,"I3":3.9},
    {"t":2013.71,"A1":1.2,"A2":2.0,"A3":1.5,"B1":2.7,"B2":1.6,"B3":7.1,"C1":1.6,"C2":1.5,"C3":2.0,"D1":1.8,"D2":1.5,"D3":9.4,"E1":1.9,"E2":4.2,"E3":1.8,"F1":2.7,"F2":1.5,"F3":2.2,"G1":2.6,"G2":3.6,"G3":1.8,"H1":3.4,"H2":3.6,"H3":2.5,"I1":3.4,"I2":4.3,"I3":2.5},
    {"t":2013.88,"A1":2.0,"A2":2.8,"A3":1.8,"B1":2.3,"B2":2.5,"B3":1.7,"C1":2.3,"C2":2.7,"C3":2.2,"D1":2.3,"D2":3.6,"D3":1.8,"E1":2.6,"E2":3.0,"E3":2.2,"F1":2.8,"F2":2.0,"F3":2.9,"G1":2.6,"G2":1.8,"G3":4.0,"H1":2.9,"H2":3.0,"H3":2.2,"I1":2.7,"I2":2.2,"I3":2.9}
  ]},
  "transform": [
    {"fold": ["A1","A2","A3","B1","B2","B3","C1","C2","C3","D1","D2","D3","E1","E2","E3","F1","F2","F3","G1","G2","G3","H1","H2","H3","I1","I2","I3"], "as": ["key", "moisture"]},
    {"calculate": "substring(datum.key, 0, 1)", "as": "panel"},
    {"calculate": "toNumber(substring(datum.key, 1, 2))", "as": "s"},
    {"calculate": "datum.s == 1 ? 'Pinus tabuliformis' : datum.s == 2 ? 'Platycladus orientalis' : 'Pinus sylvestris var. mongolica'", "as": "species"},
    {"calculate": "datum.moisture + (3 - datum.s) * 16", "as": "ypos"},
    {"calculate": "indexof('ABCDEFGHI', datum.panel)", "as": "pi"},
    {"calculate": "floor(datum.pi / 3)", "as": "row"},
    {"calculate": "datum.pi % 3", "as": "col"},
    {"calculate": "['20cm','40cm','60cm','80cm','100cm','120cm','140cm','160cm','180cm'][datum.pi]", "as": "depth"}
  ],
  "facet": {
    "row": {
      "field": "row", "type": "ordinal",
      "header": {"labels": false, "title": "Soil moisture（%）", "titleFont": "Liberation Sans", "titleFontSize": 20, "titleFontWeight": "bold", "titleColor": "#000000", "titlePadding": 4}
    },
    "column": {
      "field": "col", "type": "ordinal",
      "header": {"labels": false, "title": "Time (years)", "titleOrient": "bottom", "titleFont": "Liberation Sans", "titleFontSize": 20, "titleFontWeight": "bold", "titleColor": "#000000", "titlePadding": 10}
    }
  },
  "spacing": {"row": 14, "column": 16},
  "spec": {
    "width": 225,
    "height": 221,
    "layer": [
      {
        "mark": {"type": "line", "strokeWidth": 2, "clip": true},
        "encoding": {
          "x": {"field": "t", "type": "quantitative", "scale": {"domain": [2001, 2015], "nice": false, "zero": false},
                "axis": {"values": [2003, 2005, 2007, 2009, 2011, 2013], "format": "d", "title": null, "labelOverlap": false}},
          "y": {"field": "ypos", "type": "quantitative", "scale": {"domain": [0, 48], "nice": false},
                "axis": {"values": [0, 4, 8, 12, 16, 20, 24, 28, 32, 36, 40, 44, 48], "labelExpr": "datum.value == 48 ? '16' : '' + (datum.value % 16)", "title": null, "labelOverlap": false, "labelSeparation": 0}},
          "color": {"field": "species", "type": "nominal",
                    "scale": {"domain": ["Pinus tabuliformis", "Platycladus orientalis", "Pinus sylvestris var. mongolica"], "range": ["#ff0000", "#0000ff", "#000000"]},
                    "legend": {"title": null}}
        }
      },
      {
        "transform": [{"filter": "datum.s == 1 && datum.t == 2002.04"}],
        "mark": {"type": "text", "font": "Liberation Sans", "fontSize": 16, "fontWeight": "bold", "align": "right", "baseline": "middle", "dx": -22, "color": "#000000"},
        "encoding": {
          "x": {"datum": 2008, "type": "quantitative", "axis": {"values": [2003, 2005, 2007, 2009, 2011, 2013], "format": "d", "title": null, "labelOverlap": false}},
          "y": {"datum": 45, "type": "quantitative", "axis": {"values": [0, 4, 8, 12, 16, 20, 24, 28, 32, 36, 40, 44, 48], "labelExpr": "datum.value == 48 ? '16' : '' + (datum.value % 16)", "title": null, "labelOverlap": false, "labelSeparation": 0}},
          "text": {"field": "panel"}
        }
      },
      {
        "transform": [{"filter": "datum.s == 1 && datum.t == 2002.04"}],
        "mark": {"type": "text", "font": "Liberation Sans", "fontSize": 16, "align": "left", "baseline": "middle", "dx": -13, "color": "#000000"},
        "encoding": {
          "x": {"datum": 2008, "type": "quantitative", "axis": {"values": [2003, 2005, 2007, 2009, 2011, 2013], "format": "d", "title": null, "labelOverlap": false}},
          "y": {"datum": 45, "type": "quantitative", "axis": {"values": [0, 4, 8, 12, 16, 20, 24, 28, 32, 36, 40, 44, 48], "labelExpr": "datum.value == 48 ? '16' : '' + (datum.value % 16)", "title": null, "labelOverlap": false, "labelSeparation": 0}},
          "text": {"field": "depth"}
        }
      }
    ]
  },
  "config": {
    "view": {"stroke": "#8c8c8c", "strokeWidth": 1},
    "axis": {"labelFont": "Liberation Sans", "labelFontSize": 13, "labelFontWeight": "bold", "labelColor": "#000000", "domain": false, "grid": false, "tickColor": "#808080", "tickSize": 3, "labelOverlap": false},
    "axisX": {"labelPadding": 6},
    "axisY": {"labelPadding": 2, "labelOverlap": false},
    "legend": {"orient": "top", "direction": "horizontal", "symbolType": "M-1,0L3,0", "symbolSize": 484, "symbolStrokeWidth": 2, "labelFont": "Liberation Sans", "labelFontSize": 17, "labelFontStyle": "italic", "labelColor": "#000000", "labelLimit": 400, "columnPadding": 10, "labelOffset": 28, "offset": 6}
  }
}
